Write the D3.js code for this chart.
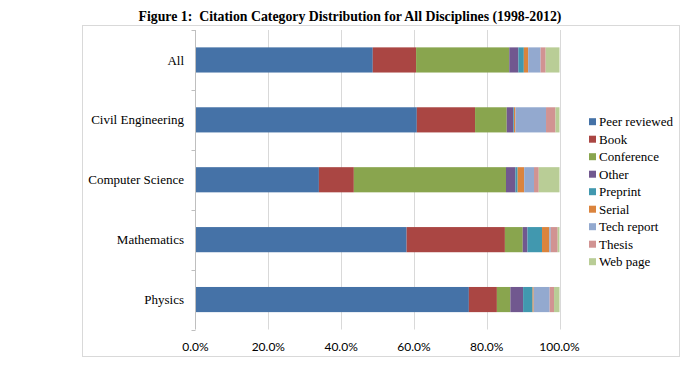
<!DOCTYPE html>
<html>
<head>
<meta charset="utf-8">
<script src="https://cdn.jsdelivr.net/npm/d3@7"></script>
<style>
  body { margin: 0; background: #fff; }
  svg { display: block; }
</style>
</head>
<body>
<div id="chart"></div>
<script>
// 분야(카테고리)
const disciplines = ['All', 'Civil Engineering', 'Computer Science', 'Mathematics', 'Physics'];
// 인용 유형(시리즈)
const citeTypes = ['Peer reviewed', 'Book', 'Conference', 'Other', 'Preprint', 'Serial', 'Tech report', 'Thesis', 'Web page'];
// 각 분야별 비율 (%) - citeTypes 순서
const allVals     = [48.7, 11.9, 25.6, 2.5, 1.5, 1.2, 3.4, 1.4, 3.8];
const civilVals   = [60.8, 16.0, 8.7, 1.8, 0.2, 0.4, 8.4, 2.6, 1.1];
const csVals      = [33.9, 9.6, 41.8, 2.6, 0.6, 1.8, 2.7, 1.3, 5.7];
const mathVals    = [58.0, 27.0, 4.9, 1.3, 4.0, 2.0, 0.4, 1.9, 0.5];
const physicsVals = [75.1, 7.7, 3.7, 3.5, 2.6, 0.3, 4.4, 1.2, 1.5];
const tickVals = [0, 0.2, 0.4, 0.6, 0.8, 1.0];

const colors = ['#4572A7', '#AA4643', '#89A54E', '#71588F', '#4198AF', '#DB843D', '#93A9CF', '#D19392', '#B9CD96'];

const W = 700, H = 370;
const plot = { left: 195.5, right: 559.5, top: 30, bottom: 329.5 };

const svg = d3.select('#chart').append('svg').attr('width', W).attr('height', H);

// 바깥 테두리
svg.append('rect')
  .attr('x', 82.5).attr('y', 25.5).attr('width', 597).attr('height', 331)
  .attr('fill', 'none').attr('stroke', '#d9d9d9').attr('stroke-width', 1);

// 제목 (두 칸 공백 유지)
svg.append('text')
  .attr('x', 350).attr('y', 21)
  .attr('text-anchor', 'middle')
  .style('white-space', 'pre')
  .style('font-family', '"Liberation Serif", "Times New Roman", serif')
  .style('font-weight', 'bold').style('font-size', '13.8px')
  .text('Figure 1:  Citation Category Distribution for All Disciplines (1998-2012)');

const x = d3.scaleLinear().domain([0, 1]).range([plot.left, plot.right]);
const y = d3.scaleBand().domain(disciplines).range([plot.top, plot.bottom]).paddingInner(0.58).paddingOuter(0.29);

// 세로 격자선
svg.append('g').selectAll('line').data(tickVals.slice(1)).join('line')
  .attr('x1', d => Math.round(x(d)) + 0.5).attr('x2', d => Math.round(x(d)) + 0.5)
  .attr('y1', plot.top).attr('y2', plot.bottom)
  .attr('stroke', '#d9d9d9').attr('stroke-width', 1);

// 누적 막대 데이터
const valsByDisc = [allVals, civilVals, csVals, mathVals, physicsVals];
const rows = disciplines.map((d, i) => {
  const r = { name: d };
  citeTypes.forEach((t, j) => { r[t] = valsByDisc[i][j] / 100; });
  return r;
});
const stacked = d3.stack().keys(citeTypes)(rows);

svg.append('g').selectAll('g').data(stacked).join('g')
  .attr('fill', (d, i) => colors[i])
  .selectAll('rect').data(d => d).join('rect')
  .attr('x', d => x(d[0]))
  .attr('width', d => Math.max(0, x(d[1]) - x(d[0])))
  .attr('y', d => y(d.data.name))
  .attr('height', y.bandwidth());

// 세로축 선 + 눈금 (밴드 경계)
svg.append('line')
  .attr('x1', plot.left).attr('x2', plot.left)
  .attr('y1', plot.top).attr('y2', plot.bottom)
  .attr('stroke', '#bfbfbf');
svg.append('g').selectAll('line').data(d3.range(disciplines.length + 1)).join('line')
  .attr('x1', plot.left - 4).attr('x2', plot.left)
  .attr('y1', i => Math.round(plot.top + i * y.step()) + 0.5)
  .attr('y2', i => Math.round(plot.top + i * y.step()) + 0.5)
  .attr('stroke', '#bfbfbf');

// 카테고리 라벨
svg.append('g').selectAll('text').data(disciplines).join('text')
  .attr('x', 184)
  .attr('y', d => y(d) + y.bandwidth() / 2)
  .attr('dy', '0.35em')
  .attr('text-anchor', 'end')
  .style('font-family', '"Liberation Serif", "Times New Roman", serif')
  .style('font-size', '13px')
  .text(d => d);

// x축 라벨
svg.append('g').selectAll('text').data(tickVals).join('text')
  .attr('x', d => x(d))
  .attr('y', 351)
  .attr('text-anchor', 'middle')
  .style('font-family', 'Lato, "Open Sans", sans-serif')
  .style('font-size', '12px')
  .text(d => d3.format('.1%')(d));

// 범례
const legend = svg.append('g').selectAll('g').data(citeTypes).join('g')
  .attr('transform', (d, i) => `translate(589, ${121.7 + i * 17.5})`);
legend.append('rect')
  .attr('x', 0).attr('y', -3.5).attr('width', 7).attr('height', 7)
  .attr('fill', (d, i) => colors[i]);
legend.append('text')
  .attr('x', 10).attr('dy', '0.35em')
  .style('font-family', '"Liberation Serif", "Times New Roman", serif')
  .style('font-size', '13px')
  .text(d => d);
</script>
</body>
</html>
